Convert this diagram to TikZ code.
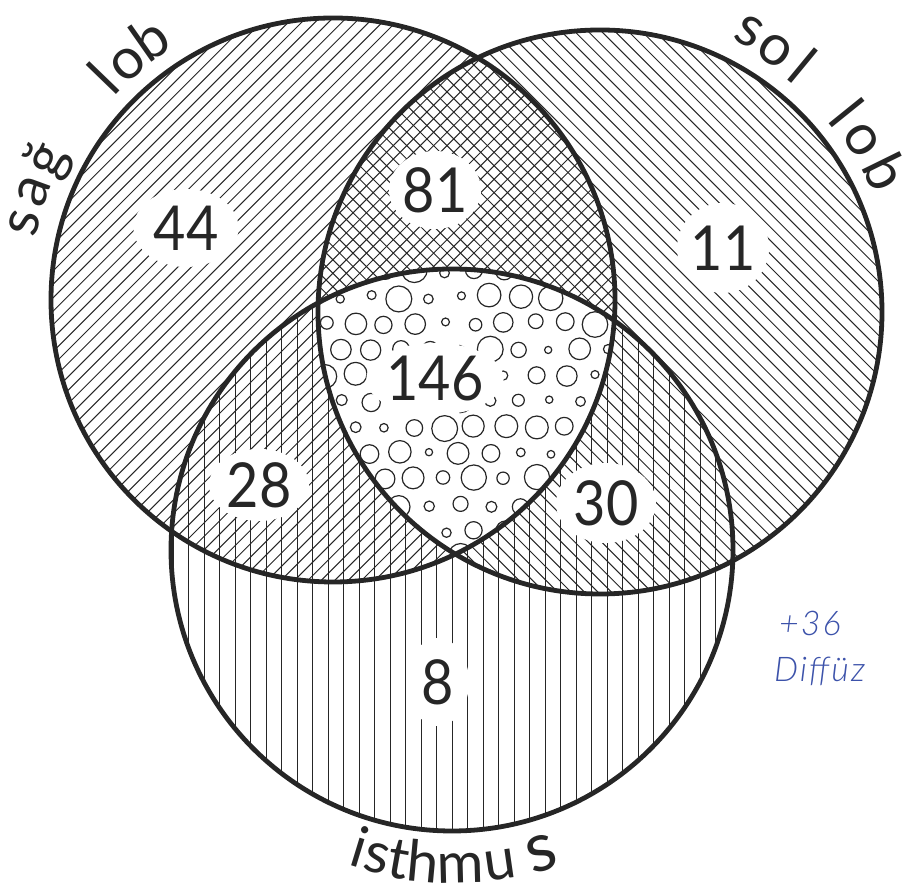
\documentclass[tikz,border=0pt]{standalone}
\usepackage{fontspec}
\setmainfont{Lato}[UprightFont=* Light, ItalicFont=* Light Italic]
\newfontfamily\numfont{Lato}[FakeStretch=0.9]
\newfontfamily\lblfont{Lato}
\usetikzlibrary{shapes.geometric}
\definecolor{ink}{RGB}{38,38,38}
\definecolor{penblue}{RGB}{60,82,170}
\begin{document}
\begin{tikzpicture}[x=1pt,y=1pt,
  outline/.style={line width=4.8pt, draw=ink},
  hatch/.style={line width=1pt, draw=ink},
  bubble/.style={line width=1.2pt, draw=ink},
  numlbl/.style={ellipse, fill=white, inner sep=0pt, text=ink, font=\numfont\fontsize{62}{62}\selectfont},
  lett/.style={anchor=base, inner sep=0pt, text=ink, font=\lblfont\fontsize{57}{57}\selectfont},
  note/.style={anchor=base west, inner sep=0pt, text=penblue, font=\itshape\fontsize{34}{36}\selectfont\addfontfeature{LetterSpace=6}}]
\useasboundingbox (0,0) rectangle (906,890);
\coordinate (L) at (333,590);
\coordinate (R) at (600,578);
\coordinate (B) at (452,340);

% hatching of the left circle
\begin{scope}
  \clip (L) circle (282);
  \begin{scope}[shift={(L)}, rotate=45]
    \foreach \k in {-30,...,30} \draw[hatch] (-300,\k*9.5) -- (300,\k*9.5);
  \end{scope}
\end{scope}
% hatching of the right circle
\begin{scope}
  \clip (R) circle (282);
  \begin{scope}[shift={(R)}, rotate=-45]
    \foreach \k in {-30,...,30} \draw[hatch] (-300,\k*9.5) -- (300,\k*9.5);
  \end{scope}
\end{scope}
% hatching of the bottom circle
\begin{scope}
  \clip (B) circle (281);
  \foreach \k in {-18,...,18} \draw[hatch] (452+\k*15.5,50) -- (452+\k*15.5,630);
\end{scope}

% common region with bubbles
\begin{scope}
  \clip (L) circle (282);
  \clip (R) circle (282);
  \clip (B) circle (281);
  \fill[white] (300,320) rectangle (640,640);
  \pgfmathsetseed{11}
  \foreach \j in {0,...,11}{
    \foreach \i in {0,...,11}{
      \pgfmathsetmacro{\bx}{310+\i*30+mod(\j,2)*15+4*rnd-2}
      \pgfmathsetmacro{\by}{333+\j*26+4*rnd-2}
      \pgfmathsetmacro{\br}{3.5+9.5*rnd}
      \draw[bubble] (\bx,\by) circle (\br);
    }
  }
\end{scope}

% numbers
\node[numlbl, minimum width=105, minimum height=78] (n44) at (186,662) {44};
\node[numlbl, minimum width=92, minimum height=78] (n81) at (435,700) {81};
\node[numlbl, minimum width=92, minimum height=90] (n11) at (723,642) {11};
\node[numlbl, minimum width=135, minimum height=72] (n146) at (435,511) {146};
\node[numlbl, minimum width=100, minimum height=72] (n28) at (259,405) {28};
\node[numlbl, minimum width=100, minimum height=80] (n30) at (606,387) {30};
\node[numlbl, minimum width=62, minimum height=88] (n8) at (438,208) {8};

% circle outlines
\draw[outline] (L) circle (282);
\draw[outline] (R) circle (282);
\draw[outline] (B) circle (281);

% sag lob
\begin{scope}[shift={(L)}]
  \node[lett, rotate=76] (sg1) at (166:304) {s};
  \node[lett, rotate=70] (sg2) at (160:304) {a};
  \node[lett, rotate=64] (sg3) at (154:302) {ğ};
  \node[lett, rotate=46] (lb1) at (136:298) {l};
  \node[lett, rotate=41] (lb2) at (131:298) {o};
  \node[lett, rotate=35] (lb3) at (125:299) {b};
\end{scope}
% sol lob
\begin{scope}[shift={(R)}]
  \node[lett, rotate=-28] (so1) at (62:303) {s};
  \node[lett, rotate=-33.7] (so2) at (56.3:300) {o};
  \node[lett, rotate=-39.5] (so3) at (50.5:299) {l};
  \node[lett, rotate=-51.1] (lo1) at (38.9:297) {l};
  \node[lett, rotate=-56.7] (lo2) at (33.3:298) {o};
  \node[lett, rotate=-63.8] (lo3) at (26.2:298) {b};
\end{scope}
% isthmus
\begin{scope}[shift={(B)}]
  \node[lett, rotate=-17] (is1) at (-107.2:331) {i};
  \node[lett, rotate=-13.6] (is2) at (-103.6:332) {s};
  \node[lett, rotate=-10] (is3) at (-99.8:333) {t};
  \node[lett, rotate=-5.3] (is4) at (-95.2:333) {h};
  \node[lett, rotate=1.5] (is5) at (-88.4:333) {m};
  \node[lett, rotate=8.2] (is6) at (-81.4:333) {u};
  \node[lett, rotate=17, scale=1.2] (is7) at (-73.6:334) {s};
\end{scope}

% handwritten note
\node[note] (plus) at (779,254) {+36};
\node[note] (diff) at (774,208) {Diffüz};
\end{tikzpicture}
\end{document}
